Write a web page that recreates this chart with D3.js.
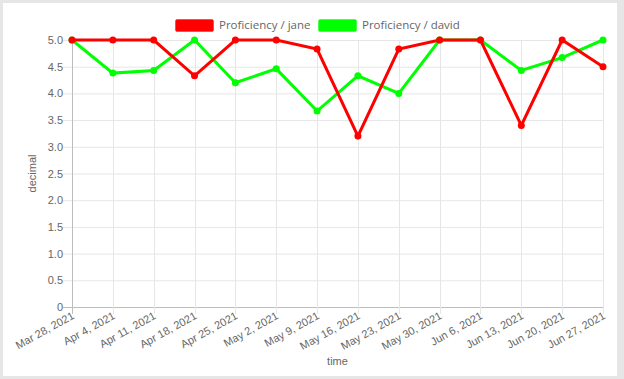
<!DOCTYPE html>
<html><head><meta charset="utf-8">
<script src="https://cdn.jsdelivr.net/npm/d3@7"></script>
<style>
html,body{margin:0;padding:0;background:#e6e6e6;}
svg{display:block;}
</style></head>
<body>
<svg id="c" width="624" height="379"></svg>
<script>
const dates = ["2021-03-28","2021-04-04","2021-04-11","2021-04-18","2021-04-25","2021-05-02","2021-05-09","2021-05-16","2021-05-23","2021-05-30","2021-06-06","2021-06-13","2021-06-20","2021-06-27"];
const jane  = [5.0, 5.0, 5.0, 4.33, 5.0, 5.0, 4.83, 3.2, 4.83, 5.0, 5.0, 3.4, 5.0, 4.5];
const david = [5.0, 4.38, 4.43, 5.0, 4.2, 4.46, 3.67, 4.33, 4.0, 5.0, 5.0, 4.43, 4.67, 5.0];
const yTicks = [0, 0.5, 1.0, 1.5, 2.0, 2.5, 3.0, 3.5, 4.0, 4.5, 5.0];
const seriesNames = ["Proficiency / jane", "Proficiency / david"];
const seriesColors = ["#ff0000", "#00ff00"];

const parse = d3.timeParse("%Y-%m-%d");
const dx = dates.map(parse);
const svg = d3.select("#c");
svg.append("rect").attr("x",3).attr("y",3).attr("width",614).attr("height",373).attr("fill","#fff");

const L=72, R=603, T=40, B=307;
const x = d3.scaleTime().domain(d3.extent(dx)).range([L,R]);
const y = d3.scaleLinear().domain([0,5]).range([B,T]);
const font = "Liberation Sans, Arial, sans-serif";

// grid
const g = svg.append("g");
g.selectAll(".hg").data(yTicks).join("line")
  .attr("x1",L-9).attr("x2",R).attr("y1",d=>y(d)+0.5).attr("y2",d=>y(d)+0.5)
  .attr("stroke",d=>d===0?"#bdbdbd":"#e6e6e6").attr("stroke-width",1);
g.selectAll(".vg").data(dx).join("line")
  .attr("x1",d=>Math.round(x(d))+0.5).attr("x2",d=>Math.round(x(d))+0.5).attr("y1",T).attr("y2",B+7)
  .attr("stroke",(d,i)=>i===0?"#bdbdbd":"#e6e6e6").attr("stroke-width",1);

// y labels
svg.append("g").selectAll("text").data(yTicks).join("text")
  .attr("x",L-9).attr("y",d=>y(d)+4).attr("text-anchor","end")
  .attr("font-family",font).attr("font-size",11).attr("fill","#666")
  .text(d=>d===0?"0":d3.format(".1f")(d));

// x labels
const fmt = d3.timeFormat("%b %-d, %Y");
svg.append("g").selectAll("text").data(dx).join("text")
  .attr("transform",d=>`translate(${x(d)+3},${B+11}) rotate(-29)`)
  .attr("text-anchor","end")
  .attr("font-family",font).attr("font-size",11).attr("fill","#666")
  .text(d=>fmt(d));

// axis titles
svg.append("text").attr("x",(L+R)/2).attr("y",365).attr("text-anchor","middle")
  .attr("font-family",font).attr("font-size",11).attr("fill","#666").text("time");
svg.append("text").attr("transform",`translate(36,${(T+B)/2}) rotate(-90)`).attr("text-anchor","middle")
  .attr("font-family",font).attr("font-size",11).attr("fill","#666").text("decimal");

// lines
const line = d3.line().x((d,i)=>x(dx[i])).y(d=>y(d));
const sets = [jane, david];
[1,0].forEach(k=>{
  svg.append("path").datum(sets[k]).attr("d",line).attr("fill","none")
    .attr("stroke",seriesColors[k]).attr("stroke-width",3).attr("stroke-linejoin","miter");
  svg.append("g").selectAll("circle").data(sets[k]).join("circle")
    .attr("cx",(d,i)=>x(dx[i])).attr("cy",d=>y(d)).attr("r",3.5).attr("fill",seriesColors[k]);
});

// legend
const lx = [175, 318];
seriesNames.forEach((n,k)=>{
  svg.append("rect").attr("x",lx[k]+0.5).attr("y",19.5).attr("width",38).attr("height",12).attr("rx",1.5)
    .attr("fill",seriesColors[k]).attr("stroke",seriesColors[k]).attr("stroke-opacity",0.4);
  svg.append("text").attr("x",lx[k]+44).attr("y",28.5).attr("font-family","Open Sans, sans-serif")
    .attr("font-size",11.5).attr("fill","#666").text(n);
});
</script>
</body></html>
